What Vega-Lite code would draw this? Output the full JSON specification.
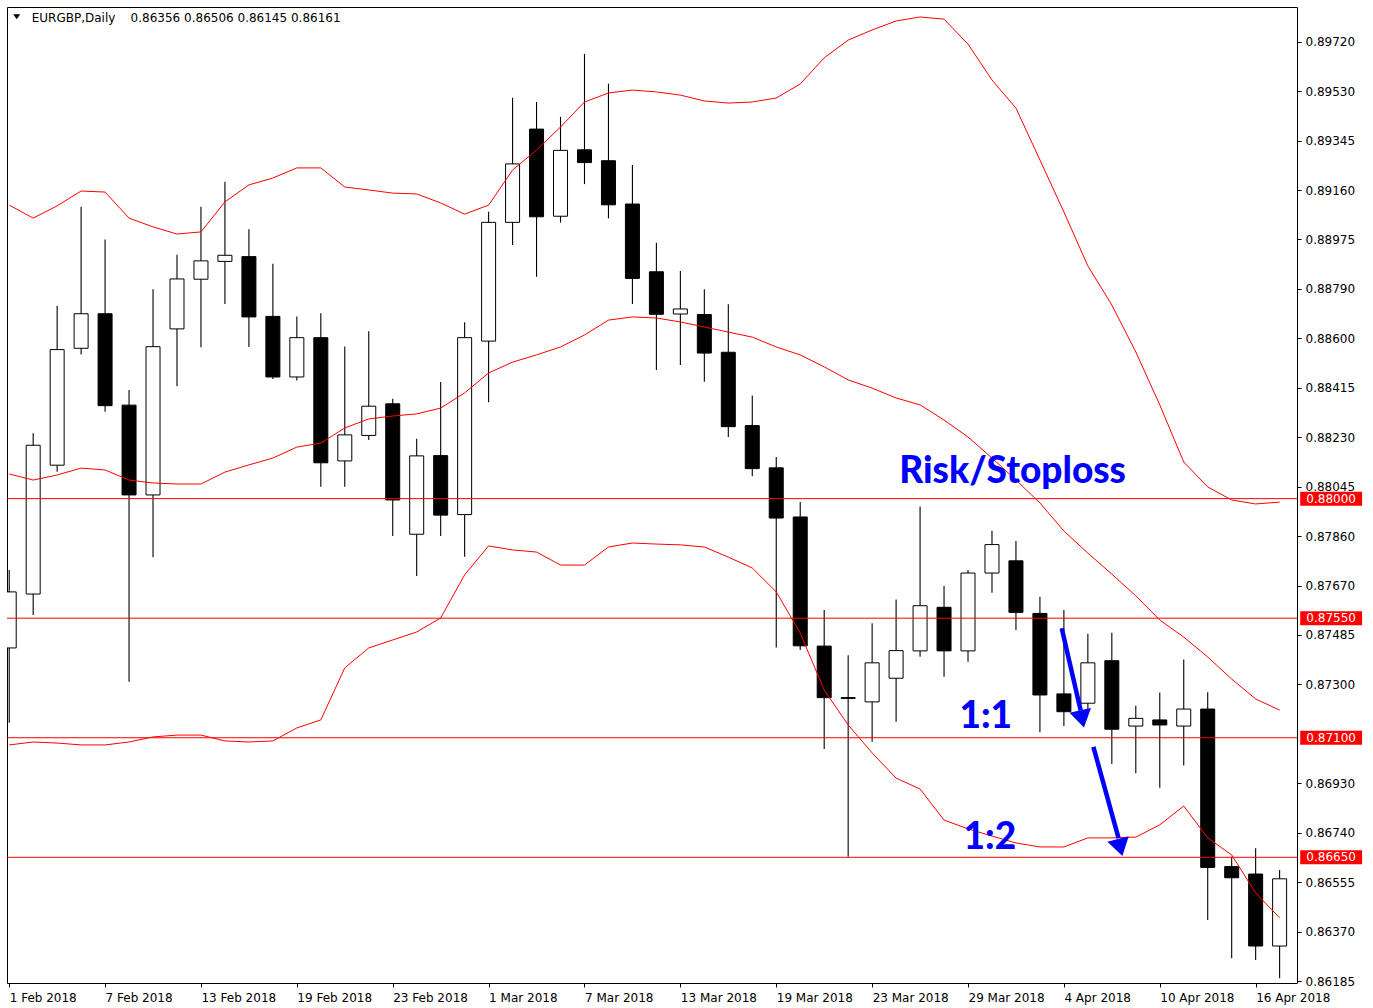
{
  "$schema": "https://vega.github.io/schema/vega-lite/v6.json",
  "width": 1290,
  "height": 976,
  "autosize": {"type": "none"},
  "padding": {"left": 7, "top": 7, "right": 76, "bottom": 25},
  "background": "#ffffff",
  "config": {
    "view": {"stroke": "#000000", "strokeWidth": 1},
    "axis": {"labelFont": "DejaVu Sans", "labelFontSize": 12, "labelColor": "#000000", "tickColor": "#000000", "domainColor": "#000000", "grid": false}
  },
  "resolve": {"axis": {"x": "independent", "y": "independent"}},
  "datasets": {
    "candles": [
      {"i": 0, "date": "2018-02-01", "open": 0.87438, "high": 0.87731, "low": 0.87156, "close": 0.87649, "upper": 0.89105, "middle": 0.88093, "lower": 0.87073},
      {"i": 1, "date": "2018-02-02", "open": 0.87641, "high": 0.88246, "low": 0.87562, "close": 0.88201, "upper": 0.89056, "middle": 0.88070, "lower": 0.87084},
      {"i": 2, "date": "2018-02-05", "open": 0.88126, "high": 0.88726, "low": 0.88101, "close": 0.88561, "upper": 0.89102, "middle": 0.88089, "lower": 0.87080},
      {"i": 3, "date": "2018-02-06", "open": 0.88566, "high": 0.89099, "low": 0.88543, "close": 0.88696, "upper": 0.89158, "middle": 0.88115, "lower": 0.87073},
      {"i": 4, "date": "2018-02-07", "open": 0.88696, "high": 0.88975, "low": 0.88327, "close": 0.88350, "upper": 0.89154, "middle": 0.88108, "lower": 0.87073},
      {"i": 5, "date": "2018-02-08", "open": 0.88352, "high": 0.88409, "low": 0.87311, "close": 0.88014, "upper": 0.89056, "middle": 0.88070, "lower": 0.87084},
      {"i": 6, "date": "2018-02-09", "open": 0.88014, "high": 0.88788, "low": 0.87779, "close": 0.88572, "upper": 0.89023, "middle": 0.88059, "lower": 0.87103},
      {"i": 7, "date": "2018-02-12", "open": 0.88639, "high": 0.88918, "low": 0.88423, "close": 0.88827, "upper": 0.88996, "middle": 0.88055, "lower": 0.87110},
      {"i": 8, "date": "2018-02-13", "open": 0.88826, "high": 0.89099, "low": 0.88570, "close": 0.88895, "upper": 0.89004, "middle": 0.88055, "lower": 0.87110},
      {"i": 9, "date": "2018-02-14", "open": 0.88893, "high": 0.89193, "low": 0.88733, "close": 0.88916, "upper": 0.89117, "middle": 0.88100, "lower": 0.87088},
      {"i": 10, "date": "2018-02-15", "open": 0.88911, "high": 0.89014, "low": 0.88571, "close": 0.88684, "upper": 0.89181, "middle": 0.88127, "lower": 0.87084},
      {"i": 11, "date": "2018-02-16", "open": 0.88686, "high": 0.88884, "low": 0.88450, "close": 0.88458, "upper": 0.89207, "middle": 0.88153, "lower": 0.87088},
      {"i": 12, "date": "2018-02-19", "open": 0.88458, "high": 0.88686, "low": 0.88445, "close": 0.88606, "upper": 0.89245, "middle": 0.88194, "lower": 0.87137},
      {"i": 13, "date": "2018-02-20", "open": 0.88606, "high": 0.88698, "low": 0.88045, "close": 0.88135, "upper": 0.89245, "middle": 0.88209, "lower": 0.87167},
      {"i": 14, "date": "2018-02-21", "open": 0.88142, "high": 0.88573, "low": 0.88045, "close": 0.88240, "upper": 0.89173, "middle": 0.88266, "lower": 0.87363},
      {"i": 15, "date": "2018-02-22", "open": 0.88238, "high": 0.88630, "low": 0.88221, "close": 0.88348, "upper": 0.89162, "middle": 0.88300, "lower": 0.87438},
      {"i": 16, "date": "2018-02-23", "open": 0.88357, "high": 0.88376, "low": 0.87859, "close": 0.87995, "upper": 0.89150, "middle": 0.88311, "lower": 0.87468},
      {"i": 17, "date": "2018-02-26", "open": 0.87866, "high": 0.88225, "low": 0.87709, "close": 0.88161, "upper": 0.89147, "middle": 0.88319, "lower": 0.87498},
      {"i": 18, "date": "2018-02-27", "open": 0.88162, "high": 0.88439, "low": 0.87859, "close": 0.87938, "upper": 0.89113, "middle": 0.88341, "lower": 0.87551},
      {"i": 19, "date": "2018-02-28", "open": 0.87940, "high": 0.88664, "low": 0.87781, "close": 0.88606, "upper": 0.89071, "middle": 0.88398, "lower": 0.87713},
      {"i": 20, "date": "2018-03-01", "open": 0.88593, "high": 0.89080, "low": 0.88363, "close": 0.89040, "upper": 0.89105, "middle": 0.88473, "lower": 0.87822},
      {"i": 21, "date": "2018-03-02", "open": 0.89040, "high": 0.89509, "low": 0.88955, "close": 0.89260, "upper": 0.89237, "middle": 0.88514, "lower": 0.87807},
      {"i": 22, "date": "2018-03-05", "open": 0.89391, "high": 0.89493, "low": 0.88835, "close": 0.89061, "upper": 0.89312, "middle": 0.88541, "lower": 0.87799},
      {"i": 23, "date": "2018-03-06", "open": 0.89063, "high": 0.89437, "low": 0.89039, "close": 0.89311, "upper": 0.89399, "middle": 0.88571, "lower": 0.87750},
      {"i": 24, "date": "2018-03-07", "open": 0.89313, "high": 0.89674, "low": 0.89184, "close": 0.89265, "upper": 0.89493, "middle": 0.88616, "lower": 0.87750},
      {"i": 25, "date": "2018-03-08", "open": 0.89272, "high": 0.89562, "low": 0.89055, "close": 0.89106, "upper": 0.89527, "middle": 0.88672, "lower": 0.87818},
      {"i": 26, "date": "2018-03-09", "open": 0.89109, "high": 0.89256, "low": 0.88733, "close": 0.88829, "upper": 0.89538, "middle": 0.88684, "lower": 0.87833},
      {"i": 27, "date": "2018-03-12", "open": 0.88854, "high": 0.88963, "low": 0.88484, "close": 0.88694, "upper": 0.89531, "middle": 0.88680, "lower": 0.87829},
      {"i": 28, "date": "2018-03-13", "open": 0.88695, "high": 0.88857, "low": 0.88503, "close": 0.88714, "upper": 0.89519, "middle": 0.88665, "lower": 0.87826},
      {"i": 29, "date": "2018-03-14", "open": 0.88693, "high": 0.88788, "low": 0.88440, "close": 0.88548, "upper": 0.89497, "middle": 0.88646, "lower": 0.87818},
      {"i": 30, "date": "2018-03-15", "open": 0.88551, "high": 0.88732, "low": 0.88232, "close": 0.88271, "upper": 0.89489, "middle": 0.88627, "lower": 0.87780},
      {"i": 31, "date": "2018-03-16", "open": 0.88275, "high": 0.88388, "low": 0.88084, "close": 0.88113, "upper": 0.89493, "middle": 0.88608, "lower": 0.87739},
      {"i": 32, "date": "2018-03-19", "open": 0.88116, "high": 0.88157, "low": 0.87440, "close": 0.87927, "upper": 0.89508, "middle": 0.88571, "lower": 0.87649},
      {"i": 33, "date": "2018-03-20", "open": 0.87931, "high": 0.87987, "low": 0.87430, "close": 0.87446, "upper": 0.89561, "middle": 0.88541, "lower": 0.87494},
      {"i": 34, "date": "2018-03-21", "open": 0.87445, "high": 0.87581, "low": 0.87058, "close": 0.87251, "upper": 0.89659, "middle": 0.88496, "lower": 0.87280},
      {"i": 35, "date": "2018-03-22", "open": 0.87251, "high": 0.87411, "low": 0.86652, "close": 0.87248, "upper": 0.89726, "middle": 0.88447, "lower": 0.87148},
      {"i": 36, "date": "2018-03-23", "open": 0.87235, "high": 0.87531, "low": 0.87085, "close": 0.87382, "upper": 0.89764, "middle": 0.88416, "lower": 0.87043},
      {"i": 37, "date": "2018-03-26", "open": 0.87324, "high": 0.87620, "low": 0.87160, "close": 0.87428, "upper": 0.89798, "middle": 0.88379, "lower": 0.86948},
      {"i": 38, "date": "2018-03-27", "open": 0.87427, "high": 0.87970, "low": 0.87405, "close": 0.87597, "upper": 0.89813, "middle": 0.88353, "lower": 0.86907},
      {"i": 39, "date": "2018-03-28", "open": 0.87591, "high": 0.87671, "low": 0.87330, "close": 0.87427, "upper": 0.89805, "middle": 0.88296, "lower": 0.86790},
      {"i": 40, "date": "2018-03-29", "open": 0.87427, "high": 0.87731, "low": 0.87386, "close": 0.87720, "upper": 0.89711, "middle": 0.88232, "lower": 0.86757},
      {"i": 41, "date": "2018-03-30", "open": 0.87720, "high": 0.87879, "low": 0.87646, "close": 0.87827, "upper": 0.89576, "middle": 0.88153, "lower": 0.86730},
      {"i": 42, "date": "2018-04-02", "open": 0.87766, "high": 0.87841, "low": 0.87506, "close": 0.87572, "upper": 0.89470, "middle": 0.88070, "lower": 0.86704},
      {"i": 43, "date": "2018-04-03", "open": 0.87568, "high": 0.87631, "low": 0.87121, "close": 0.87261, "upper": 0.89275, "middle": 0.87984, "lower": 0.86689},
      {"i": 44, "date": "2018-04-04", "open": 0.87265, "high": 0.87581, "low": 0.87144, "close": 0.87198, "upper": 0.89079, "middle": 0.87878, "lower": 0.86689},
      {"i": 45, "date": "2018-04-05", "open": 0.87230, "high": 0.87491, "low": 0.87202, "close": 0.87382, "upper": 0.88876, "middle": 0.87795, "lower": 0.86723},
      {"i": 46, "date": "2018-04-06", "open": 0.87390, "high": 0.87495, "low": 0.87001, "close": 0.87132, "upper": 0.88729, "middle": 0.87716, "lower": 0.86723},
      {"i": 47, "date": "2018-04-09", "open": 0.87144, "high": 0.87220, "low": 0.86966, "close": 0.87173, "upper": 0.88552, "middle": 0.87634, "lower": 0.86726},
      {"i": 48, "date": "2018-04-10", "open": 0.87167, "high": 0.87270, "low": 0.86912, "close": 0.87148, "upper": 0.88353, "middle": 0.87543, "lower": 0.86772},
      {"i": 49, "date": "2018-04-11", "open": 0.87144, "high": 0.87395, "low": 0.86996, "close": 0.87208, "upper": 0.88138, "middle": 0.87479, "lower": 0.86843},
      {"i": 50, "date": "2018-04-12", "open": 0.87208, "high": 0.87271, "low": 0.86414, "close": 0.86612, "upper": 0.88044, "middle": 0.87404, "lower": 0.86723},
      {"i": 51, "date": "2018-04-13", "open": 0.86615, "high": 0.86652, "low": 0.86270, "close": 0.86573, "upper": 0.87995, "middle": 0.87321, "lower": 0.86659},
      {"i": 52, "date": "2018-04-16", "open": 0.86587, "high": 0.86684, "low": 0.86263, "close": 0.86316, "upper": 0.87980, "middle": 0.87246, "lower": 0.86516},
      {"i": 53, "date": "2018-04-17", "open": 0.86316, "high": 0.86602, "low": 0.86195, "close": 0.86569, "upper": 0.87987, "middle": 0.87204, "lower": 0.86422}
    ],
    "levels": [
      {"price": 0.88000},
      {"price": 0.87550},
      {"price": 0.87100},
      {"price": 0.86650}
    ],
    "notes": [
      {"i": 41.86, "p": 0.88058, "label": "Risk/Stoploss"},
      {"i": 40.74, "p": 0.87136, "label": "1:1"},
      {"i": 40.91, "p": 0.86680, "label": "1:2"}
    ],
    "arrows": [
      {"arrow": 1, "i1": 43.91, "p1": 0.87512, "i2": 44.70, "p2": 0.87203},
      {"arrow": 2, "i1": 45.23, "p1": 0.87066, "i2": 46.28, "p2": 0.86722}
    ],
    "heads": [
      {"arrow": 1, "i": 44.76, "p": 0.87171},
      {"arrow": 2, "i": 46.35, "p": 0.86687}
    ]
  },
  "layer": [
    {
      "data": {"name": "candles"},
      "mark": {"type": "rule", "color": "#000000", "strokeWidth": 1.1, "clip": true},
      "encoding": {
        "x": {
          "field": "i", "type": "quantitative",
          "scale": {"domain": [-0.092, 53.725], "nice": false, "zero": false, "padding": 0},
          "axis": {
            "title": null, "domain": false,
            "values": [0, 4, 8, 12, 16, 20, 24, 28, 32, 36, 40, 44, 48, 52],
            "labelExpr": "['1 Feb 2018','7 Feb 2018','13 Feb 2018','19 Feb 2018','23 Feb 2018','1 Mar 2018','7 Mar 2018','13 Mar 2018','19 Mar 2018','23 Mar 2018','29 Mar 2018','4 Apr 2018','10 Apr 2018','16 Apr 2018'][round(datum.value/4)]",
            "labelAlign": "left", "labelFlush": false, "labelBound": false, "labelOverlap": false,
            "tickSize": 4, "labelPadding": 5
          }
        },
        "y": {
          "field": "low", "type": "quantitative",
          "scale": {"domain": [0.8617685, 0.8985061], "nice": false, "zero": false, "padding": 0},
          "axis": {
            "title": null, "orient": "right", "domain": false,
            "values": [0.8972, 0.895339, 0.893478, 0.891617, 0.889756, 0.887895, 0.886034, 0.884173, 0.882312, 0.880451, 0.87859, 0.876729, 0.874868, 0.873007, 0.869285, 0.867424, 0.865563, 0.863702, 0.861841],
            "labelExpr": "['0.89720','0.89530','0.89345','0.89160','0.88975','0.88790','0.88600','0.88415','0.88230','0.88045','0.87860','0.87670','0.87485','0.87300','0.87115','0.86930','0.86740','0.86555','0.86370','0.86185'][round((0.8972-datum.value)/0.001861)]",
            "labelOverlap": false, "labelBound": false, "labelFlush": false,
            "tickSize": 4, "labelPadding": 4
          }
        },
        "y2": {"field": "high"}
      }
    },
    {
      "data": {"name": "candles"},
      "mark": {"type": "bar", "orient": "vertical", "size": 14, "stroke": "#000000", "strokeWidth": 1, "clip": true},
      "encoding": {
        "x": {"field": "i", "type": "quantitative", "axis": null},
        "y": {"field": "open", "type": "quantitative", "axis": null},
        "y2": {"field": "close"},
        "fill": {"condition": {"test": "datum.close >= datum.open", "value": "#ffffff"}, "value": "#000000"}
      }
    },
    {
      "data": {"name": "candles"},
      "mark": {"type": "line", "color": "#ff0000", "strokeWidth": 1, "clip": true},
      "encoding": {
        "x": {"field": "i", "type": "quantitative", "axis": null},
        "y": {"field": "upper", "type": "quantitative", "axis": null}
      }
    },
    {
      "data": {"name": "candles"},
      "mark": {"type": "line", "color": "#ff0000", "strokeWidth": 1, "clip": true},
      "encoding": {
        "x": {"field": "i", "type": "quantitative", "axis": null},
        "y": {"field": "middle", "type": "quantitative", "axis": null}
      }
    },
    {
      "data": {"name": "candles"},
      "mark": {"type": "line", "color": "#ff0000", "strokeWidth": 1, "clip": true},
      "encoding": {
        "x": {"field": "i", "type": "quantitative", "axis": null},
        "y": {"field": "lower", "type": "quantitative", "axis": null}
      }
    },
    {
      "data": {"name": "levels"},
      "mark": {"type": "rule", "color": "#ff0000", "strokeWidth": 1},
      "encoding": {
        "y": {"field": "price", "type": "quantitative", "axis": null}
      }
    },
    {
      "data": {"name": "levels"},
      "mark": {"type": "bar", "orient": "horizontal", "size": 14, "color": "#ff0000", "clip": false},
      "encoding": {
        "y": {"field": "price", "type": "quantitative", "axis": null},
        "x": {"datum": 53.86, "axis": null},
        "x2": {"datum": 56.44}
      }
    },
    {
      "data": {"name": "levels"},
      "mark": {"type": "text", "color": "#ffffff", "font": "DejaVu Sans", "fontSize": 12, "align": "center", "baseline": "middle", "clip": false},
      "encoding": {
        "y": {"field": "price", "type": "quantitative", "axis": null},
        "x": {"datum": 55.15, "axis": null},
        "text": {"field": "price", "type": "quantitative", "format": ".5f"}
      }
    },
    {
      "data": {"name": "arrows"},
      "mark": {"type": "rule", "color": "#0000ff", "strokeWidth": 4.5},
      "encoding": {
        "x": {"field": "i1", "type": "quantitative", "axis": null},
        "x2": {"field": "i2"},
        "y": {"field": "p1", "type": "quantitative", "axis": null},
        "y2": {"field": "p2"}
      }
    },
    {
      "data": {"name": "heads"},
      "transform": [{"filter": "datum.arrow == 1"}],
      "mark": {"type": "point", "shape": "M-1,-0.8L1,-0.8L0,0.8Z", "size": 484, "filled": true, "color": "#0000ff", "opacity": 1, "angle": -12.3},
      "encoding": {
        "x": {"field": "i", "type": "quantitative", "axis": null},
        "y": {"field": "p", "type": "quantitative", "axis": null}
      }
    },
    {
      "data": {"name": "heads"},
      "transform": [{"filter": "datum.arrow == 2"}],
      "mark": {"type": "point", "shape": "M-1,-0.8L1,-0.8L0,0.8Z", "size": 484, "filled": true, "color": "#0000ff", "opacity": 1, "angle": -14.5},
      "encoding": {
        "x": {"field": "i", "type": "quantitative", "axis": null},
        "y": {"field": "p", "type": "quantitative", "axis": null}
      }
    },
    {
      "data": {"name": "notes"},
      "mark": {"type": "text", "color": "#0000ff", "font": "Lato, sans-serif", "fontWeight": 900, "fontSize": 37, "align": "center", "baseline": "alphabetic"},
      "encoding": {
        "x": {"field": "i", "type": "quantitative", "axis": null},
        "y": {"field": "p", "type": "quantitative", "axis": null},
        "text": {"field": "label"}
      }
    },
    {
      "data": {"values": [{"i": 0.313, "p": 0.898140}]},
      "mark": {"type": "point", "shape": "M-1,-0.7L1,-0.7L0,0.7Z", "size": 49, "filled": true, "color": "#000000", "opacity": 1},
      "encoding": {
        "x": {"field": "i", "type": "quantitative", "axis": null},
        "y": {"field": "p", "type": "quantitative", "axis": null}
      }
    },
    {
      "data": {"values": [{"i": 0.939, "p": 0.898080, "label": "EURGBP,Daily\u00a0\u00a0\u00a0\u00a00.86356 0.86506 0.86145 0.86161"}]},
      "mark": {"type": "text", "color": "#000000", "font": "DejaVu Sans", "fontSize": 12, "align": "left", "baseline": "middle"},
      "encoding": {
        "x": {"field": "i", "type": "quantitative", "axis": null},
        "y": {"field": "p", "type": "quantitative", "axis": null},
        "text": {"field": "label"}
      }
    }
  ]
}
